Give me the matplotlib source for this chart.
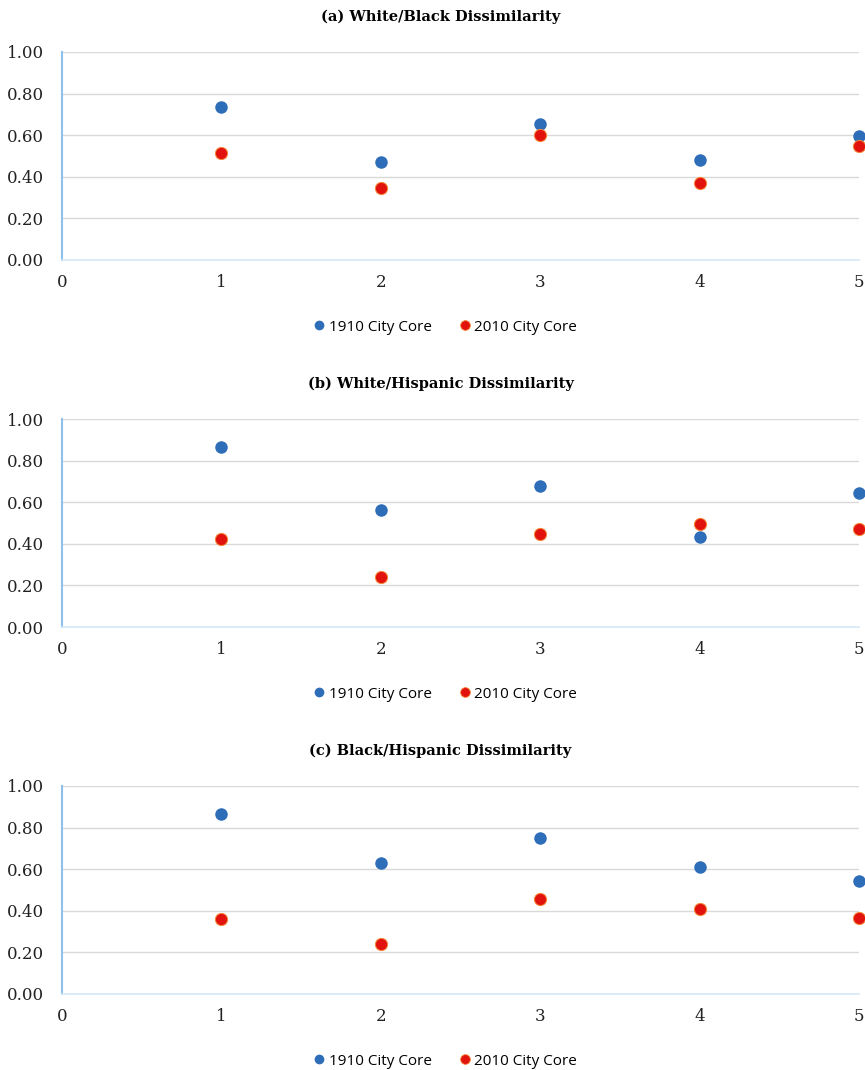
import matplotlib.pyplot as plt
from matplotlib.lines import Line2D

cities = [1, 2, 3, 4, 5]

titles = ['(a) White/Black Dissimilarity',
          '(b) White/Hispanic Dissimilarity',
          '(c) Black/Hispanic Dissimilarity']

core_1910 = [
    [0.735, 0.471, 0.654, 0.481, 0.596],
    [0.865, 0.563, 0.678, 0.433, 0.644],
    [0.865, 0.630, 0.750, 0.611, 0.543],
]
core_2010 = [
    [0.514, 0.346, 0.601, 0.370, 0.548],
    [0.423, 0.240, 0.447, 0.495, 0.471],
    [0.361, 0.240, 0.457, 0.409, 0.365],
]

blue = '#2E6DB8'
red = '#E2120C'
red_edge = '#F58A3A'

fig = plt.figure(figsize=(8.65, 10.7), dpi=100)

# panel layout (figure fraction)
bottoms = [1 - 260 / 1070, 1 - 627 / 1070, 1 - 994 / 1070]
left = 62 / 865
width = 797 / 865
height = 208 / 1070

for i in range(3):
    ax = fig.add_axes([left, bottoms[i], width, height])
    ax.plot(cities, core_1910[i], 'o', color=blue, markersize=9,
            markeredgewidth=0, clip_on=False, zorder=3)
    ax.plot(cities, core_2010[i], 'o', color=red, markersize=8.8,
            markeredgecolor=red_edge, markeredgewidth=0.7, clip_on=False, zorder=3)

    ax.set_xlim(0, 5)
    ax.set_ylim(0, 1)
    ax.set_yticks([0, 0.2, 0.4, 0.6, 0.8, 1.0])
    ax.set_yticklabels(['%.2f' % v for v in [0, 0.2, 0.4, 0.6, 0.8, 1.0]])
    ax.set_xticks([0, 1, 2, 3, 4, 5])
    ax.tick_params(length=0, colors='#222222')
    ax.tick_params(axis='x', pad=10)
    ax.tick_params(axis='y', pad=13)
    for lab in ax.get_xticklabels() + ax.get_yticklabels():
        lab.set_family('DejaVu Serif')
        lab.set_fontsize(12)

    ax.grid(axis='y', color='#D9D9D9', linewidth=1)
    ax.set_axisbelow(True)
    for s in ['top', 'right']:
        ax.spines[s].set_visible(False)
    ax.spines['left'].set_color('#8EC0EC')
    ax.spines['left'].set_linewidth(1.5)
    ax.spines['bottom'].set_color('#D6E8F8')
    ax.spines['bottom'].set_linewidth(1.2)

    ax.set_title(titles[i], family='DejaVu Serif', fontweight='bold',
                 fontsize=10.5, pad=22, x=0.475)

    handles = [
        Line2D([], [], marker='o', linestyle='', color=blue, markersize=7,
               markeredgewidth=0, label='1910 City Core'),
        Line2D([], [], marker='o', linestyle='', color=red, markersize=7,
               markeredgecolor=red_edge, markeredgewidth=0.6, label='2010 City Core'),
    ]
    ax.legend(handles=handles, loc='upper center', bbox_to_anchor=(0.479, -0.22),
              ncol=2, frameon=False, prop={'family': 'Open Sans', 'size': 11},
              handletextpad=0.0, columnspacing=1.6, handlelength=1.2)

fig.savefig('out.png', dpi=100)
